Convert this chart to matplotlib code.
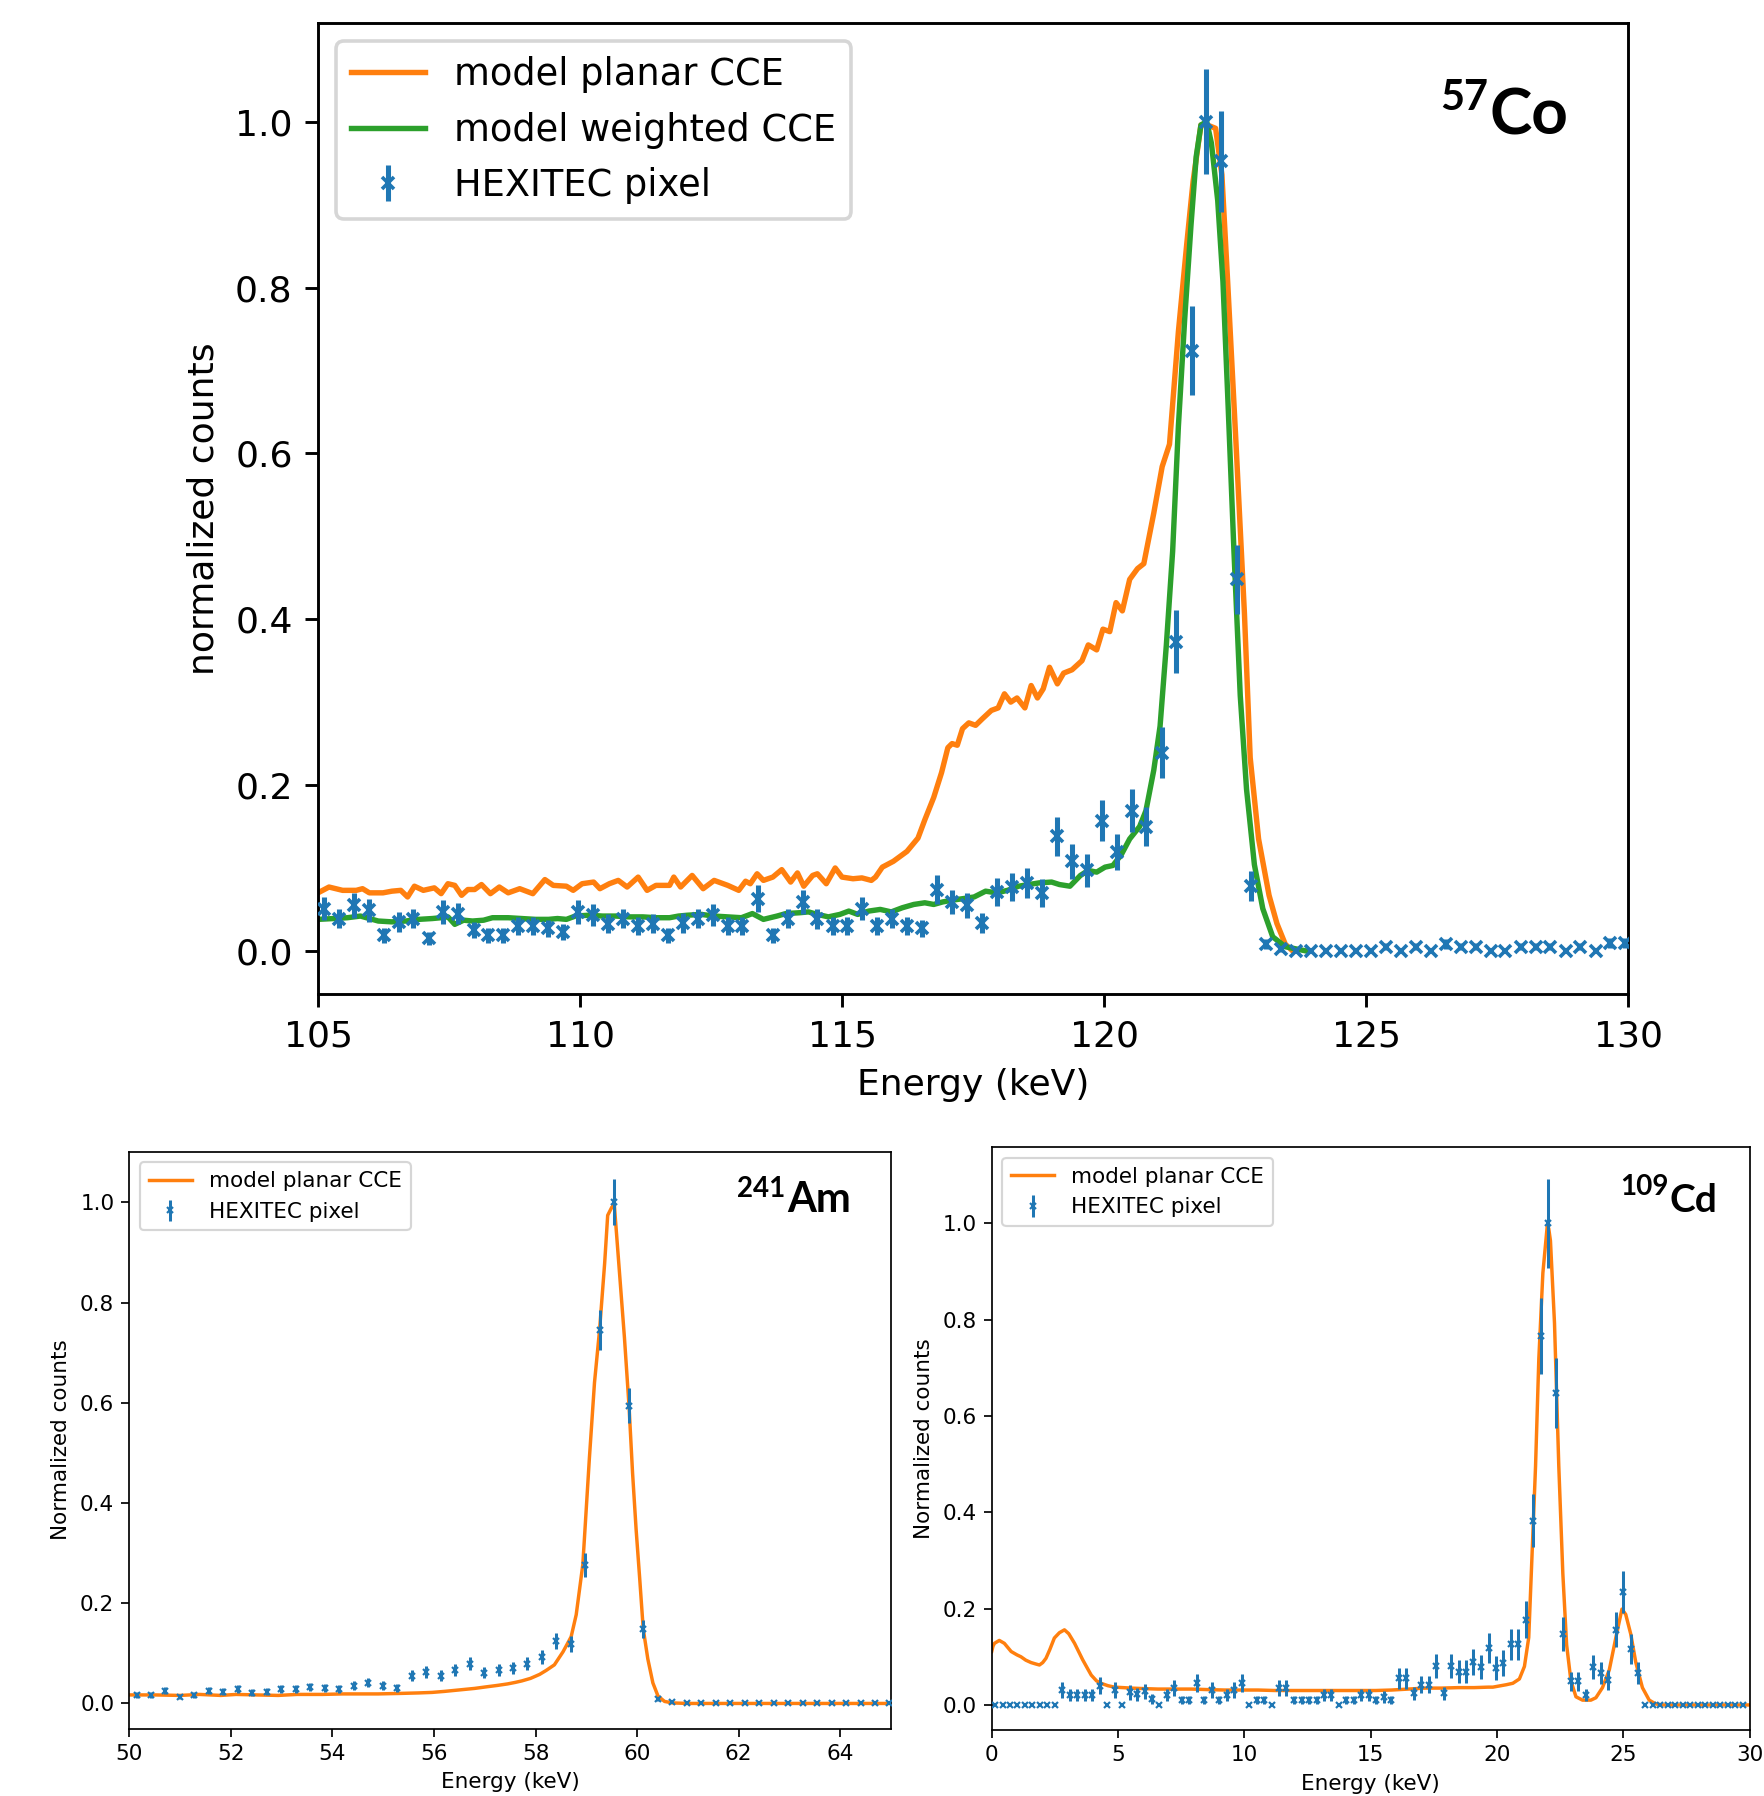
import numpy as np
import matplotlib
matplotlib.use('Agg')
import matplotlib.pyplot as plt

plt.rcParams['font.family'] = ['DejaVu Sans']
BLUE = '#1f77b4'
ORANGE = '#ff7f0e'
GREEN = '#2ca02c'

# ---------------- 57Co (top panel) ----------------
co_E = [105.11, 105.40, 105.68, 105.97, 106.25, 106.54, 106.82, 107.11, 107.39, 107.68,
        107.97, 108.25, 108.54, 108.82, 109.11, 109.39, 109.68, 109.96, 110.25, 110.53,
        110.82, 111.11, 111.39, 111.68, 111.96, 112.25, 112.53, 112.82, 113.10, 113.39,
        113.68, 113.96, 114.25, 114.53, 114.82, 115.10, 115.39, 115.67, 115.96, 116.24,
        116.53, 116.82, 117.10, 117.39, 117.67, 117.96, 118.24, 118.53, 118.81, 119.10,
        119.39, 119.67, 119.96, 120.24, 120.53, 120.81, 121.10, 121.38, 121.67, 121.95,
        122.24, 122.53, 122.81, 123.10, 123.38, 123.67, 123.95, 124.24, 124.52, 124.81,
        125.10, 125.38, 125.67, 125.95, 126.24, 126.52, 126.81, 127.09, 127.38, 127.66,
        127.95, 128.24, 128.52, 128.81, 129.09, 129.38, 129.66, 129.95]
co_y = [0.051, 0.039, 0.055, 0.049, 0.019, 0.035, 0.039, 0.015, 0.047, 0.045,
        0.025, 0.019, 0.019, 0.030, 0.030, 0.027, 0.023, 0.047, 0.043, 0.033,
        0.039, 0.030, 0.033, 0.019, 0.034, 0.039, 0.043, 0.030, 0.030, 0.063,
        0.019, 0.039, 0.059, 0.038, 0.030, 0.030, 0.051, 0.030, 0.039, 0.030,
        0.027, 0.074, 0.059, 0.055, 0.034, 0.071, 0.077, 0.082, 0.070, 0.138,
        0.108, 0.097, 0.157, 0.119, 0.169, 0.150, 0.239, 0.373, 0.724, 1.000,
        0.952, 0.448, 0.078, 0.008, 0.002, 0.000, 0.000, 0.000, 0.000, 0.000,
        0.000, 0.005, 0.000, 0.005, 0.000, 0.008, 0.005, 0.005, 0.000, 0.000,
        0.005, 0.005, 0.005, 0.000, 0.005, 0.000, 0.009, 0.009]
co_err = [0.014, 0.012, 0.015, 0.014, 0.009, 0.012, 0.012, 0.008, 0.014, 0.013,
          0.010, 0.009, 0.009, 0.011, 0.011, 0.010, 0.010, 0.014, 0.013, 0.011,
          0.012, 0.011, 0.011, 0.009, 0.012, 0.012, 0.013, 0.011, 0.011, 0.016,
          0.009, 0.012, 0.015, 0.012, 0.011, 0.011, 0.014, 0.011, 0.012, 0.011,
          0.010, 0.017, 0.015, 0.015, 0.012, 0.017, 0.017, 0.018, 0.017, 0.023,
          0.021, 0.020, 0.025, 0.022, 0.026, 0.024, 0.031, 0.038, 0.054, 0.063,
          0.061, 0.042, 0.018, 0.006, 0.003, 0.000, 0.000, 0.000, 0.000, 0.000,
          0.000, 0.004, 0.000, 0.004, 0.000, 0.006, 0.004, 0.004, 0.000, 0.000,
          0.004, 0.004, 0.004, 0.000, 0.004, 0.000, 0.006, 0.006]

co_planar_E = [105.00, 105.21, 105.47, 105.73, 105.85, 105.98, 106.24, 106.41, 106.58, 106.71,
               106.84, 107.01, 107.22, 107.35, 107.48, 107.61, 107.74, 107.86, 107.99, 108.12,
               108.29, 108.46, 108.63, 108.85, 109.10, 109.33, 109.49, 109.74, 109.87, 110.04,
               110.26, 110.38, 110.56, 110.73, 110.90, 111.11, 111.28, 111.45, 111.71, 111.79,
               111.92, 112.14, 112.35, 112.56, 112.82, 113.03, 113.16, 113.25, 113.38, 113.50,
               113.68, 113.85, 114.02, 114.15, 114.27, 114.44, 114.53, 114.70, 114.87, 115.00,
               115.21, 115.38, 115.56, 115.64, 115.77, 115.98, 116.24, 116.45, 116.58, 116.75,
               116.90, 117.02, 117.10, 117.20, 117.30, 117.42, 117.55, 117.68, 117.85, 117.98,
               118.10, 118.22, 118.34, 118.49, 118.61, 118.73, 118.84, 118.96, 119.11, 119.23,
               119.39, 119.58, 119.70, 119.86, 119.98, 120.11, 120.23, 120.35, 120.49, 120.64,
               120.76, 120.95, 121.11, 121.25, 121.42, 121.58, 121.70, 121.85, 121.97, 122.13,
               122.25, 122.36, 122.52, 122.68, 122.79, 122.95, 123.15, 123.30, 123.46, 123.60]
co_planar_y = [0.070, 0.077, 0.073, 0.073, 0.075, 0.070, 0.070, 0.072, 0.073, 0.065,
               0.078, 0.073, 0.076, 0.069, 0.081, 0.079, 0.067, 0.074, 0.074, 0.080,
               0.069, 0.077, 0.070, 0.075, 0.069, 0.086, 0.079, 0.078, 0.073, 0.081,
               0.083, 0.075, 0.081, 0.085, 0.077, 0.089, 0.073, 0.079, 0.079, 0.089,
               0.077, 0.091, 0.075, 0.085, 0.079, 0.073, 0.084, 0.081, 0.093, 0.085,
               0.089, 0.098, 0.083, 0.094, 0.078, 0.091, 0.093, 0.081, 0.100, 0.089,
               0.087, 0.088, 0.085, 0.089, 0.101, 0.108, 0.120, 0.136, 0.158, 0.185,
               0.215, 0.245, 0.250, 0.248, 0.268, 0.275, 0.272, 0.280, 0.290, 0.293,
               0.310, 0.300, 0.305, 0.293, 0.320, 0.305, 0.316, 0.342, 0.322, 0.335,
               0.339, 0.350, 0.369, 0.363, 0.388, 0.385, 0.420, 0.410, 0.448, 0.461,
               0.467, 0.528, 0.584, 0.611, 0.747, 0.853, 0.928, 0.996, 0.996, 0.992,
               0.936, 0.807, 0.611, 0.407, 0.233, 0.135, 0.067, 0.033, 0.008, 0.000]

co_weight_E = [105.00, 105.30, 105.56, 105.81, 105.98, 106.15, 106.41, 106.67, 106.92, 107.18,
               107.35, 107.48, 107.61, 107.78, 107.95, 108.16, 108.33, 108.63, 108.89, 109.15,
               109.40, 109.57, 109.74, 109.91, 110.17, 110.43, 110.68, 110.94, 111.20, 111.45,
               111.71, 111.88, 112.05, 112.31, 112.56, 112.82, 113.08, 113.29, 113.50, 113.76,
               113.93, 114.19, 114.36, 114.53, 114.74, 114.96, 115.13, 115.30, 115.51, 115.73,
               115.94, 116.15, 116.37, 116.58, 116.75, 116.92, 117.09, 117.31, 117.52, 117.74,
               117.95, 118.16, 118.37, 118.76, 119.00, 119.15, 119.35, 119.55, 119.70, 119.86,
               120.02, 120.17, 120.33, 120.49, 120.68, 120.80, 120.95, 121.07, 121.19, 121.31,
               121.42, 121.54, 121.66, 121.76, 121.85, 121.96, 122.05, 122.17, 122.27, 122.36,
               122.48, 122.60, 122.72, 122.87, 123.03, 123.22, 123.46, 123.85]
co_weight_y = [0.038, 0.039, 0.040, 0.042, 0.039, 0.036, 0.035, 0.036, 0.038, 0.039,
               0.040, 0.041, 0.032, 0.037, 0.036, 0.037, 0.040, 0.040, 0.039, 0.038,
               0.038, 0.039, 0.038, 0.042, 0.043, 0.042, 0.042, 0.041, 0.041, 0.040,
               0.040, 0.042, 0.043, 0.044, 0.042, 0.041, 0.040, 0.045, 0.038, 0.042,
               0.045, 0.046, 0.047, 0.044, 0.041, 0.044, 0.048, 0.044, 0.048, 0.050,
               0.047, 0.052, 0.056, 0.058, 0.056, 0.059, 0.061, 0.063, 0.065, 0.072,
               0.070, 0.073, 0.078, 0.082, 0.083, 0.080, 0.078, 0.091, 0.097, 0.095,
               0.101, 0.103, 0.116, 0.135, 0.150, 0.169, 0.218, 0.271, 0.369, 0.482,
               0.633, 0.762, 0.875, 0.958, 0.996, 1.000, 0.974, 0.905, 0.807, 0.671,
               0.482, 0.308, 0.195, 0.104, 0.051, 0.017, 0.005, 0.000]

# ---------------- 241Am (bottom left) ----------------
am_E = [50.14, 50.43, 50.71, 51.00, 51.28, 51.57, 51.85, 52.14, 52.42, 52.71,
        52.99, 53.28, 53.56, 53.85, 54.13, 54.42, 54.70, 54.99, 55.27, 55.56,
        55.84, 56.13, 56.41, 56.70, 56.98, 57.27, 57.56, 57.84, 58.13, 58.41,
        58.70, 58.98, 59.27, 59.55, 59.84, 60.12, 60.41, 60.69, 60.98, 61.26,
        61.55, 61.83, 62.12, 62.40, 62.69, 62.97, 63.26, 63.55, 63.83, 64.12,
        64.40, 64.69, 64.97]
am_y = [0.017, 0.017, 0.025, 0.013, 0.017, 0.025, 0.023, 0.028, 0.021, 0.023,
        0.028, 0.028, 0.032, 0.030, 0.028, 0.035, 0.041, 0.035, 0.031, 0.055,
        0.063, 0.055, 0.067, 0.079, 0.061, 0.067, 0.070, 0.079, 0.092, 0.124,
        0.118, 0.277, 0.745, 1.000, 0.594, 0.149, 0.009, 0.002, 0.000, 0.000,
        0.000, 0.000, 0.000, 0.000, 0.000, 0.000, 0.000, 0.000, 0.000, 0.000,
        0.000, 0.000, 0.000]
am_err = [0.006, 0.006, 0.007, 0.005, 0.006, 0.007, 0.007, 0.008, 0.007, 0.007,
          0.008, 0.008, 0.008, 0.008, 0.008, 0.009, 0.009, 0.009, 0.008, 0.011,
          0.012, 0.011, 0.012, 0.013, 0.011, 0.012, 0.012, 0.013, 0.014, 0.016,
          0.016, 0.024, 0.040, 0.046, 0.035, 0.018, 0.004, 0.002, 0.000, 0.000,
          0.000, 0.000, 0.000, 0.000, 0.000, 0.000, 0.000, 0.000, 0.000, 0.000,
          0.000, 0.000, 0.000]
am_model_E = [50.00, 50.50, 51.00, 51.38, 51.80, 52.10, 52.50, 52.93, 53.30, 53.80,
              54.20, 54.55, 54.90, 55.33, 55.70, 55.96, 56.20, 56.50, 56.80, 57.02,
              57.25, 57.45, 57.60, 57.73, 57.90, 58.08, 58.21, 58.37, 58.54, 58.70,
              58.80, 58.93, 59.06, 59.16, 59.26, 59.36, 59.42, 59.50, 59.55, 59.65,
              59.75, 59.84, 59.91, 59.98, 60.05, 60.12, 60.21, 60.31, 60.41, 60.54,
              60.70, 61.00, 65.00]
am_model_y = [0.017, 0.017, 0.016, 0.018, 0.016, 0.018, 0.017, 0.016, 0.018, 0.018,
              0.019, 0.019, 0.019, 0.020, 0.021, 0.022, 0.024, 0.027, 0.030, 0.033,
              0.036, 0.039, 0.042, 0.045, 0.050, 0.058, 0.066, 0.077, 0.103, 0.133,
              0.177, 0.277, 0.490, 0.640, 0.745, 0.878, 0.974, 0.990, 0.996, 0.863,
              0.730, 0.594, 0.460, 0.347, 0.250, 0.149, 0.089, 0.041, 0.015, 0.004,
              0.001, 0.000, 0.000]

# ---------------- 109Cd (bottom right) ----------------
cd_E = [0.13, 0.43, 0.72, 1.02, 1.31, 1.61, 1.91, 2.20, 2.50, 2.79,
        3.09, 3.39, 3.68, 3.98, 4.27, 4.57, 4.87, 5.16, 5.46, 5.75,
        6.05, 6.35, 6.64, 6.94, 7.23, 7.53, 7.83, 8.12, 8.42, 8.71,
        9.01, 9.31, 9.60, 9.90, 10.19, 10.49, 10.79, 11.08, 11.38, 11.67,
        11.97, 12.27, 12.56, 12.86, 13.15, 13.45, 13.75, 14.04, 14.34, 14.63,
        14.93, 15.23, 15.52, 15.82, 16.11, 16.41, 16.71, 17.00, 17.30, 17.59,
        17.89, 18.19, 18.48, 18.78, 19.07, 19.37, 19.67, 19.96, 20.26, 20.55,
        20.85, 21.15, 21.44, 21.74, 22.03, 22.33, 22.63, 22.92, 23.22, 23.51,
        23.81, 24.11, 24.40, 24.70, 24.99, 25.29, 25.59, 25.88, 26.18, 26.47,
        26.77, 27.07, 27.36, 27.66, 27.95, 28.25, 28.55, 28.84, 29.14, 29.43,
        29.73]
cd_y = [0.000, 0.000, 0.000, 0.000, 0.000, 0.000, 0.000, 0.000, 0.000, 0.031,
        0.021, 0.021, 0.021, 0.021, 0.040, 0.000, 0.031, 0.000, 0.026, 0.022,
        0.028, 0.012, 0.000, 0.021, 0.035, 0.010, 0.010, 0.045, 0.010, 0.031,
        0.010, 0.021, 0.031, 0.045, 0.000, 0.010, 0.010, 0.000, 0.035, 0.035,
        0.010, 0.010, 0.010, 0.010, 0.021, 0.021, 0.000, 0.010, 0.010, 0.021,
        0.021, 0.010, 0.017, 0.010, 0.055, 0.055, 0.024, 0.042, 0.042, 0.080,
        0.024, 0.080, 0.069, 0.069, 0.090, 0.078, 0.119, 0.076, 0.088, 0.126,
        0.126, 0.177, 0.383, 0.767, 1.000, 0.648, 0.147, 0.049, 0.049, 0.021,
        0.079, 0.067, 0.052, 0.156, 0.235, 0.117, 0.067, 0.000, 0.000, 0.000,
        0.000, 0.000, 0.000, 0.000, 0.000, 0.000, 0.000, 0.000, 0.000, 0.000,
        0.000]
cd_err = [0.000, 0.000, 0.000, 0.000, 0.000, 0.000, 0.000, 0.000, 0.000, 0.016,
          0.013, 0.013, 0.013, 0.013, 0.018, 0.000, 0.016, 0.000, 0.015, 0.013,
          0.015, 0.010, 0.000, 0.013, 0.017, 0.009, 0.009, 0.019, 0.009, 0.016,
          0.009, 0.013, 0.016, 0.019, 0.000, 0.009, 0.009, 0.000, 0.017, 0.017,
          0.009, 0.009, 0.009, 0.009, 0.013, 0.013, 0.000, 0.009, 0.009, 0.013,
          0.013, 0.009, 0.012, 0.009, 0.021, 0.021, 0.014, 0.018, 0.018, 0.025,
          0.014, 0.025, 0.024, 0.024, 0.027, 0.025, 0.031, 0.025, 0.027, 0.032,
          0.032, 0.038, 0.056, 0.079, 0.092, 0.072, 0.035, 0.020, 0.020, 0.013,
          0.025, 0.023, 0.021, 0.036, 0.044, 0.031, 0.023, 0.000, 0.000, 0.000,
          0.000, 0.000, 0.000, 0.000, 0.000, 0.000, 0.000, 0.000, 0.000, 0.000,
          0.000]
cd_model_E = [0.00, 0.05, 0.11, 0.30, 0.50, 0.77, 1.00, 1.16, 1.35, 1.56,
              1.75, 1.89, 2.02, 2.15, 2.30, 2.48, 2.68, 2.88, 3.05, 3.28,
              3.45, 3.60, 3.78, 3.94, 4.15, 4.33, 4.60, 4.86, 5.20, 5.52,
              6.00, 6.58, 7.20, 7.90, 8.50, 9.22, 9.90, 10.54, 11.20, 11.86,
              12.50, 13.18, 13.80, 14.50, 15.20, 15.83, 16.50, 17.15, 17.80, 18.47,
              19.10, 19.66, 19.84, 20.37, 20.63, 20.89, 21.09, 21.26, 21.39, 21.53,
              21.66, 21.82, 21.99, 22.05, 22.12, 22.28, 22.45, 22.61, 22.76, 22.93,
              23.13, 23.39, 23.72, 23.92, 24.18, 24.45, 24.71, 24.95, 25.10, 25.30,
              25.50, 25.76, 26.03, 26.29, 26.60, 30.00]
cd_model_y = [0.111, 0.122, 0.128, 0.134, 0.128, 0.111, 0.104, 0.100, 0.093, 0.088,
              0.085, 0.083, 0.088, 0.097, 0.115, 0.139, 0.150, 0.156, 0.148, 0.128,
              0.110, 0.094, 0.077, 0.062, 0.050, 0.045, 0.040, 0.037, 0.036, 0.035,
              0.034, 0.033, 0.033, 0.033, 0.032, 0.031, 0.031, 0.031, 0.030, 0.030,
              0.030, 0.030, 0.030, 0.030, 0.030, 0.031, 0.033, 0.035, 0.035, 0.036,
              0.036, 0.037, 0.037, 0.042, 0.045, 0.054, 0.080, 0.140, 0.310, 0.496,
              0.719, 0.897, 0.993, 0.990, 0.964, 0.793, 0.496, 0.273, 0.125, 0.050,
              0.017, 0.010, 0.010, 0.015, 0.036, 0.073, 0.140, 0.199, 0.188, 0.147,
              0.088, 0.036, 0.010, 0.002, 0.000, 0.000]

W, H = 1764, 1796
fig = plt.figure(figsize=(W / 100, H / 100), dpi=100)


def frac(x0, y0, x1, y1):
    return [x0 / W, 1 - y1 / H, (x1 - x0) / W, (y1 - y0) / H]


def style(ax, s):
    for sp in ax.spines.values():
        sp.set_linewidth(0.8 * s)
    ax.tick_params(length=3.5 * s, width=0.8 * s, pad=3.5 * s, labelsize=10 * s)


def iso(ax, x, y, mass, elem, big, small, rise):
    ax.text(x, y, elem, transform=ax.transAxes, fontsize=big, fontweight='bold',
            family=['Lato', 'DejaVu Sans'], ha='left', va='baseline')
    ax.annotate(mass, xy=(x, y), xycoords='axes fraction', xytext=(-1, rise),
                textcoords='offset points', fontsize=small, fontweight='bold',
                family=['Lato', 'DejaVu Sans'], ha='right', va='baseline')


# ---- top ----
s = 2.6
ax1 = fig.add_axes(frac(318, 23, 1628, 994))
ax1.plot(co_planar_E, co_planar_y, color=ORANGE, lw=1.5 * s, label='model planar CCE')
ax1.plot(co_weight_E, co_weight_y, color=GREEN, lw=1.5 * s, label='model weighted CCE')
ax1.errorbar(co_E, co_y, yerr=co_err, fmt='x', color=BLUE, ms=3.2 * s, mew=1.0 * s,
             elinewidth=1.4 * s, label='HEXITEC pixel', zorder=3)
ax1.set_xlim(105, 130)
ax1.set_ylim(-0.052, 1.119)
ax1.set_xticks([105, 110, 115, 120, 125, 130])
ax1.set_yticks([0.0, 0.2, 0.4, 0.6, 0.8, 1.0])
style(ax1, s)
ax1.set_xlabel('Energy (keV)', fontsize=10 * s, labelpad=4 * s)
ax1.set_ylabel('normalized counts', fontsize=10 * s, labelpad=4 * s)
leg = ax1.legend(loc='upper left', fontsize=26.5)
leg.get_frame().set_linewidth(1.0 * s)
iso(ax1, 0.894, 0.885, '57', 'Co', 46, 30, 18)

# ---- bottom left ----
s2 = 1.55
ax2 = fig.add_axes(frac(129.4, 1151.7, 891, 1728.5))
ax2.plot(am_model_E, am_model_y, color=ORANGE, lw=1.6 * s2, label='model planar CCE')
ax2.errorbar(am_E, am_y, yerr=am_err, fmt='x', color=BLUE, ms=3.0 * s2, mew=1.0 * s2,
             elinewidth=1.4 * s2, label='HEXITEC pixel', zorder=3)
ax2.set_xlim(50, 65)
ax2.set_ylim(-0.050, 1.101)
ax2.set_xticks([50, 52, 54, 56, 58, 60, 62, 64])
ax2.set_yticks([0.0, 0.2, 0.4, 0.6, 0.8, 1.0])
style(ax2, s2)
ax2.set_xlabel('Energy (keV)', fontsize=10 * s2, labelpad=4 * s2)
ax2.set_ylabel('Normalized counts', fontsize=10 * s2, labelpad=4 * s2)
leg2 = ax2.legend(loc='upper left', fontsize=10 * s2)
leg2.get_frame().set_linewidth(1.0 * s2)
iso(ax2, 0.8634, 0.8955, '241', 'Am', 30, 20, 11)

# ---- bottom right ----
ax3 = fig.add_axes(frac(991.7, 1147.3, 1749.5, 1730))
ax3.plot(cd_model_E, cd_model_y, color=ORANGE, lw=1.6 * s2, label='model planar CCE')
ax3.errorbar(cd_E, cd_y, yerr=cd_err, fmt='x', color=BLUE, ms=3.0 * s2, mew=1.0 * s2,
             elinewidth=1.4 * s2, label='HEXITEC pixel', zorder=3)
ax3.set_xlim(0, 30)
ax3.set_ylim(-0.052, 1.158)
ax3.set_xticks([0, 5, 10, 15, 20, 25, 30])
ax3.set_yticks([0.0, 0.2, 0.4, 0.6, 0.8, 1.0])
style(ax3, s2)
ax3.set_xlabel('Energy (keV)', fontsize=10 * s2, labelpad=4 * s2)
ax3.set_ylabel('Normalized counts', fontsize=10 * s2, labelpad=4 * s2)
leg3 = ax3.legend(loc='upper left', fontsize=10 * s2)
leg3.get_frame().set_linewidth(1.0 * s2)
iso(ax3, 0.895, 0.889, '109', 'Cd', 28, 20, 12)

fig.savefig('out.png', dpi=100)
